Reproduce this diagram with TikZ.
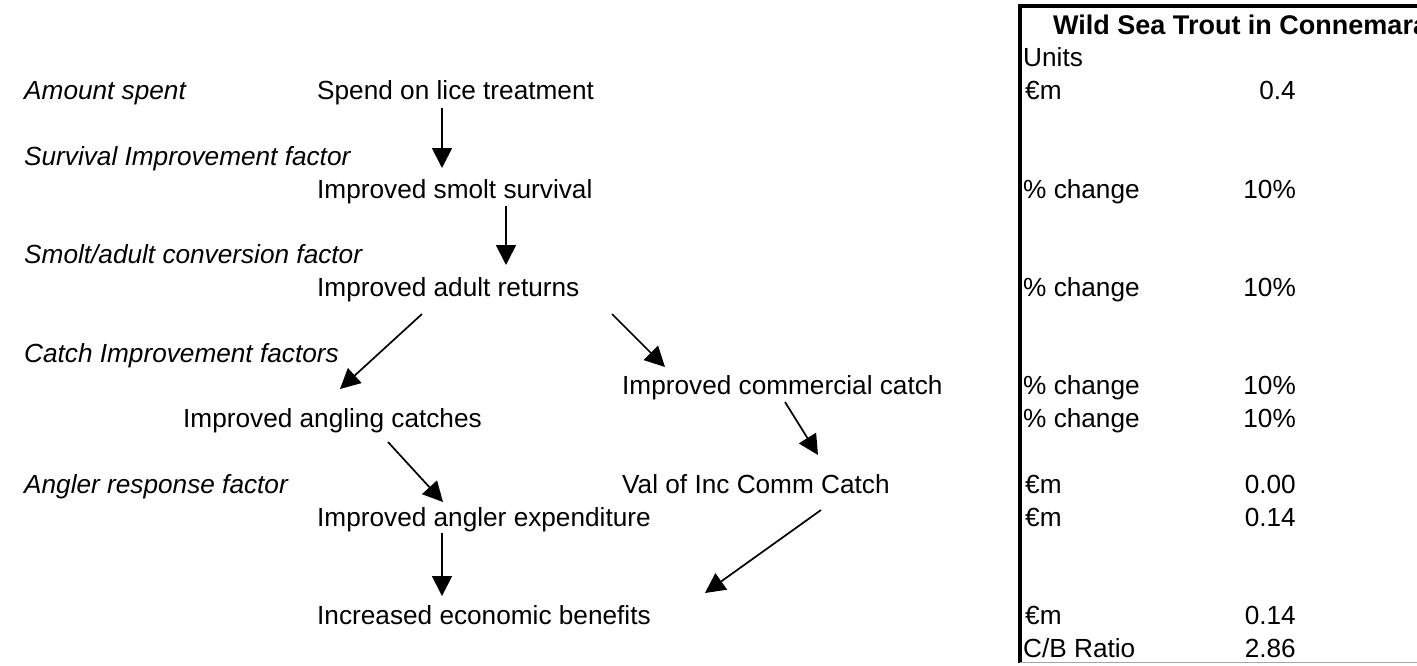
\documentclass[tikz,border=0pt]{standalone}
\usepackage{fontspec}
\setmainfont{Liberation Sans}
\usetikzlibrary{arrows.meta}
\begin{document}
\begin{tikzpicture}[x=1pt,y=-1pt,
    every node/.style={inner sep=0pt,font=\fontsize{26.2}{31}\selectfont},
    factor/.style={anchor=base west,font=\fontsize{26.2}{31}\selectfont\itshape},
    stage/.style={anchor=base west},
    unit/.style={anchor=base west},
    value/.style={anchor=base east},
    flow/.style={-{Triangle[length=20pt,width=20pt]},line width=1.7pt}]
    \useasboundingbox (0,0) rectangle (1417,665);
    % factors on the left
    \node[factor] (amount) at (24,99.6) {Amount spent};
    \node[factor] (survfac) at (24,165.2) {Survival Improvement factor};
    \node[factor] (convfac) at (24,263.6) {Smolt/adult conversion factor};
    \node[factor] (catchfac) at (24,362) {Catch Improvement factors};
    \node[factor] (anglerfac) at (24,493.2) {Angler response factor};
    % chain of effects
    \node[stage] (spend) at (317,99.6) {Spend on lice treatment};
    \node[stage] (smolt) at (317,198) {Improved smolt survival};
    \node[stage] (adult) at (317,296.4) {Improved adult returns};
    \node[stage] (comm) at (622,394.8) {Improved commercial catch};
    \node[stage] (angling) at (183,427.6) {Improved angling catches};
    \node[stage] (valcomm) at (622,493.2) {Val of Inc Comm Catch};
    \node[stage] (expend) at (317,526) {Improved angler expenditure};
    \node[stage] (benefit) at (317,624.4) {Increased economic benefits};
    % arrow ends
    \coordinate (spend-o) at (442,108);
    \coordinate (smolt-i) at (442,168);
    \coordinate (smolt-o) at (506,206);
    \coordinate (adult-i) at (506,265);
    \coordinate (adult-l) at (422,314);
    \coordinate (angling-i) at (340,389);
    \coordinate (adult-r) at (612,314);
    \coordinate (comm-i) at (665,367);
    \coordinate (angling-o) at (388,442);
    \coordinate (expend-i) at (443,502);
    \coordinate (comm-o) at (785,402);
    \coordinate (valcomm-i) at (818,455);
    \coordinate (expend-o) at (442,533);
    \coordinate (benefit-l) at (442,596);
    \coordinate (valcomm-o) at (821,510);
    \coordinate (benefit-r) at (705,593);
    \path[flow] (spend-o) edge (smolt-i);
    \path[flow] (smolt-o) edge (adult-i);
    \path[flow] (adult-l) edge (angling-i);
    \path[flow] (adult-r) edge (comm-i);
    \path[flow] (angling-o) edge (expend-i);
    \path[flow] (comm-o) edge (valcomm-i);
    \path[flow] (expend-o) edge (benefit-l);
    \path[flow] (valcomm-o) edge (benefit-r);
    % table on the right
    \draw[line width=3.5pt] (1417,6) -- (1020,6) -- (1020,663);
    \draw[black!35,line width=1pt] (1020,662) -- (1417,662);
    \node[anchor=base west,font=\fontsize{27}{32}\selectfont\bfseries] (title) at (1053,34) {Wild Sea Trout in Connemara};
    \node[unit] (units) at (1023,66.8) {Units};
    \node[unit] (u1) at (1025,99.6) {€m};
    \node[value] (v1) at (1296,99.6) {0.4};
    \node[unit] (u2) at (1023,198) {\% change};
    \node[value] (v2) at (1296,198) {10\%};
    \node[unit] (u3) at (1023,296.4) {\% change};
    \node[value] (v3) at (1296,296.4) {10\%};
    \node[unit] (u4) at (1023,394.8) {\% change};
    \node[value] (v4) at (1296,394.8) {10\%};
    \node[unit] (u5) at (1023,427.6) {\% change};
    \node[value] (v5) at (1296,427.6) {10\%};
    \node[unit] (u6) at (1025,493.2) {€m};
    \node[value] (v6) at (1296,493.2) {0.00};
    \node[unit] (u7) at (1025,526) {€m};
    \node[value] (v7) at (1296,526) {0.14};
    \node[unit] (u8) at (1025,624.4) {€m};
    \node[value] (v8) at (1296,624.4) {0.14};
    \node[unit] (u9) at (1023,657.2) {C/B Ratio};
    \node[value] (v9) at (1296,657.2) {2.86};
\end{tikzpicture}
\end{document}
